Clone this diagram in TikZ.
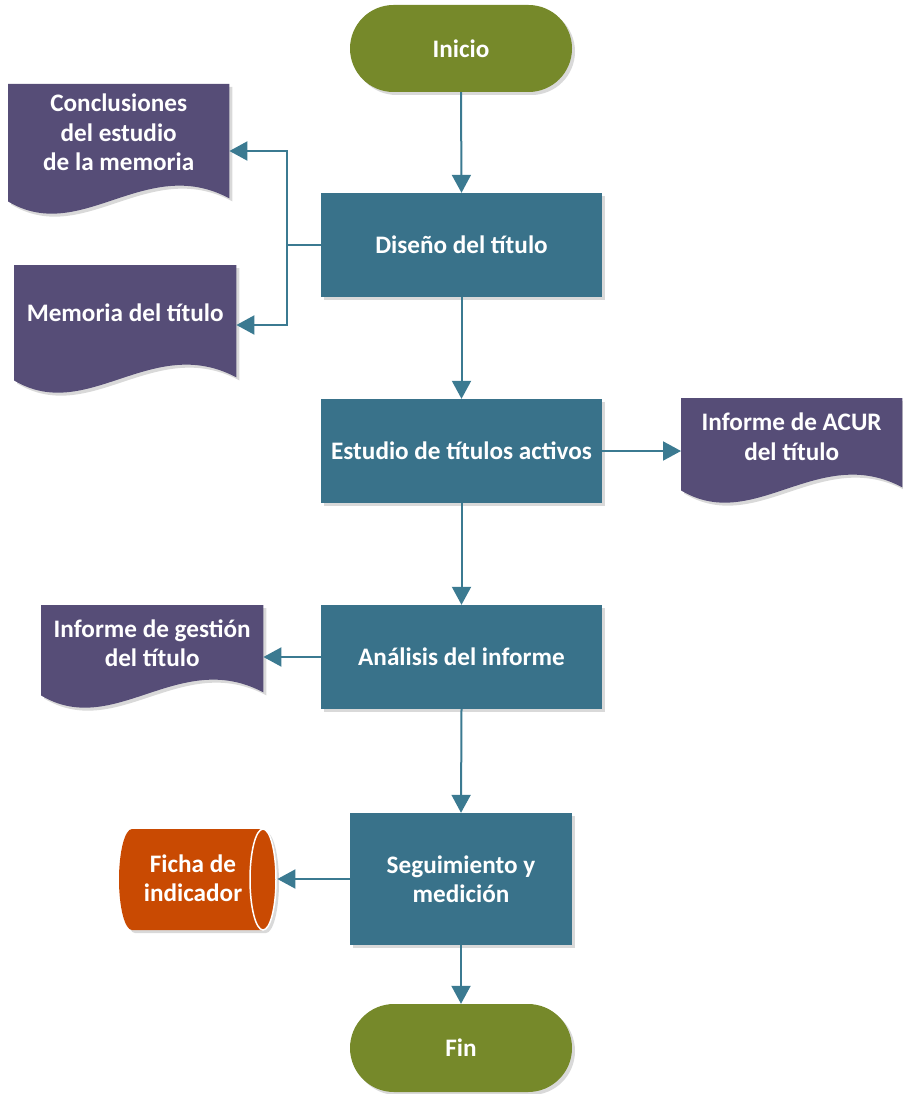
\documentclass[tikz,border=0pt]{standalone}
\usepackage{fontspec}
\setmainfont{Carlito}
\usetikzlibrary{arrows.meta,shapes.misc,calc,shadows}
\definecolor{boxteal}{RGB}{57,114,138}
\definecolor{arrteal}{RGB}{59,122,145}
\definecolor{termgreen}{RGB}{118,137,42}
\definecolor{docpurple}{RGB}{86,77,119}
\definecolor{cylorange}{RGB}{201,74,2}
\newcommand\mydocshape[1]{%
  \fill[doc] (#1.north west) -- (#1.north east) -- ($(#1.south east)+(0,-3)$)
    .. controls ($(#1.south west)!0.62!(#1.south east)+(0,-48)$) and ($(#1.south west)!0.33!(#1.south east)+(0,44)$) .. (#1.south west) -- cycle;}
\begin{document}
\begin{tikzpicture}[x=1pt,y=-1pt,
  every node/.style={font=\fontsize{25.2}{29.5}\selectfont\bfseries, text=white, align=center},
  shad/.style={drop shadow={shadow xshift=3pt,shadow yshift=-3pt,opacity=0.15,fill=black}},
  term/.style={rounded rectangle, fill=termgreen, minimum width=222pt, minimum height=87pt, inner sep=0pt, shad},
  proc/.style={rectangle, fill=boxteal, minimum width=281pt, minimum height=104pt, inner sep=0pt, shad},
  ghost/.style={rectangle, draw=none, fill=none, inner sep=0pt, anchor=north west},
  doc/.style={fill=docpurple, shad},
  arr/.style={draw=arrteal, line width=2pt, -{Triangle[length=18pt,width=19pt]}},
  conn/.style={draw=arrteal, line width=2pt}]
\useasboundingbox (0,0) rectangle (902,1094);

% process / terminator nodes
\node[term] (inicio) at (461,48.5) {Inicio};
\node[proc] (diseno) at (461.5,245) {Diseño del título};
\node[proc] (estudio) at (461.5,451) {Estudio de títulos activos};
\node[proc] (analisis) at (461.5,657) {Análisis del informe};
\node[proc, minimum width=222pt, minimum height=132pt] (seguim) at (461,879) {Seguimiento y\\medición};
\node[term, minimum height=88pt] (fin) at (461,1048) {Fin};

% document shapes
\node[ghost, minimum width=221pt, minimum height=117pt] (conc) at (8,84) {};
\node[ghost, minimum width=222pt, minimum height=115pt] (mem) at (14,265) {};
\node[ghost, minimum width=221pt, minimum height=92pt] (acur) at (681,398) {};
\node[ghost, minimum width=222pt, minimum height=90pt] (gest) at (41,605) {};
\mydocshape{conc}
\mydocshape{mem}
\mydocshape{acur}
\mydocshape{gest}
\node (conct) at ($(conc.center)+(0,-10)$) {Conclusiones\\del estudio\\de la memoria};
\node (memt) at ($(mem.center)+(0,-10)$) {Memoria del título};
\node (acurt) at ($(acur.center)+(0,-7.5)$) {Informe de ACUR\\del título};
\node (gestt) at ($(gest.center)+(0,-7)$) {Informe de gestión\\del título};

% cylinder
\node[ghost, minimum width=158pt, minimum height=101pt] (ficha) at (119,829) {};
\path[fill=cylorange, shad] (132,829) -- (263,829)
  arc[start angle=90, end angle=-90, x radius=13pt, y radius=50.5pt]
  -- (132,930) arc[start angle=270, end angle=90, x radius=13pt, y radius=50.5pt] -- cycle;
\draw[white, line width=1.5pt] (263,879.5) ellipse[x radius=13pt, y radius=50.5pt];
\node (fichat) at (193,878) {Ficha de\\indicador};

% connectors
\coordinate (concin) at ($(conc.north east)+(0,67)$);
\coordinate (memin) at ($(mem.north east)+(0,60)$);
\draw[arr] (inicio.south) -- (diseno.north);
\draw[conn] (diseno.west) -- ++(-34,0) coordinate (split);
\draw[arr] (split) |- (concin);
\draw[arr] (split) |- (memin);
\draw[arr] (diseno.south) -- (estudio.north);
\draw[arr] (estudio.east) -- (acur.west |- estudio.east);
\draw[arr] (estudio.south) -- (analisis.north);
\draw[arr] (analisis.west) -- (gest.east |- analisis.west);
\draw[arr] (analisis.south) -- (seguim.north);
\draw[arr] (seguim.west) -- (ficha.east |- seguim.west);
\draw[arr] (seguim.south) -- (fin.north);
\end{tikzpicture}
\end{document}
